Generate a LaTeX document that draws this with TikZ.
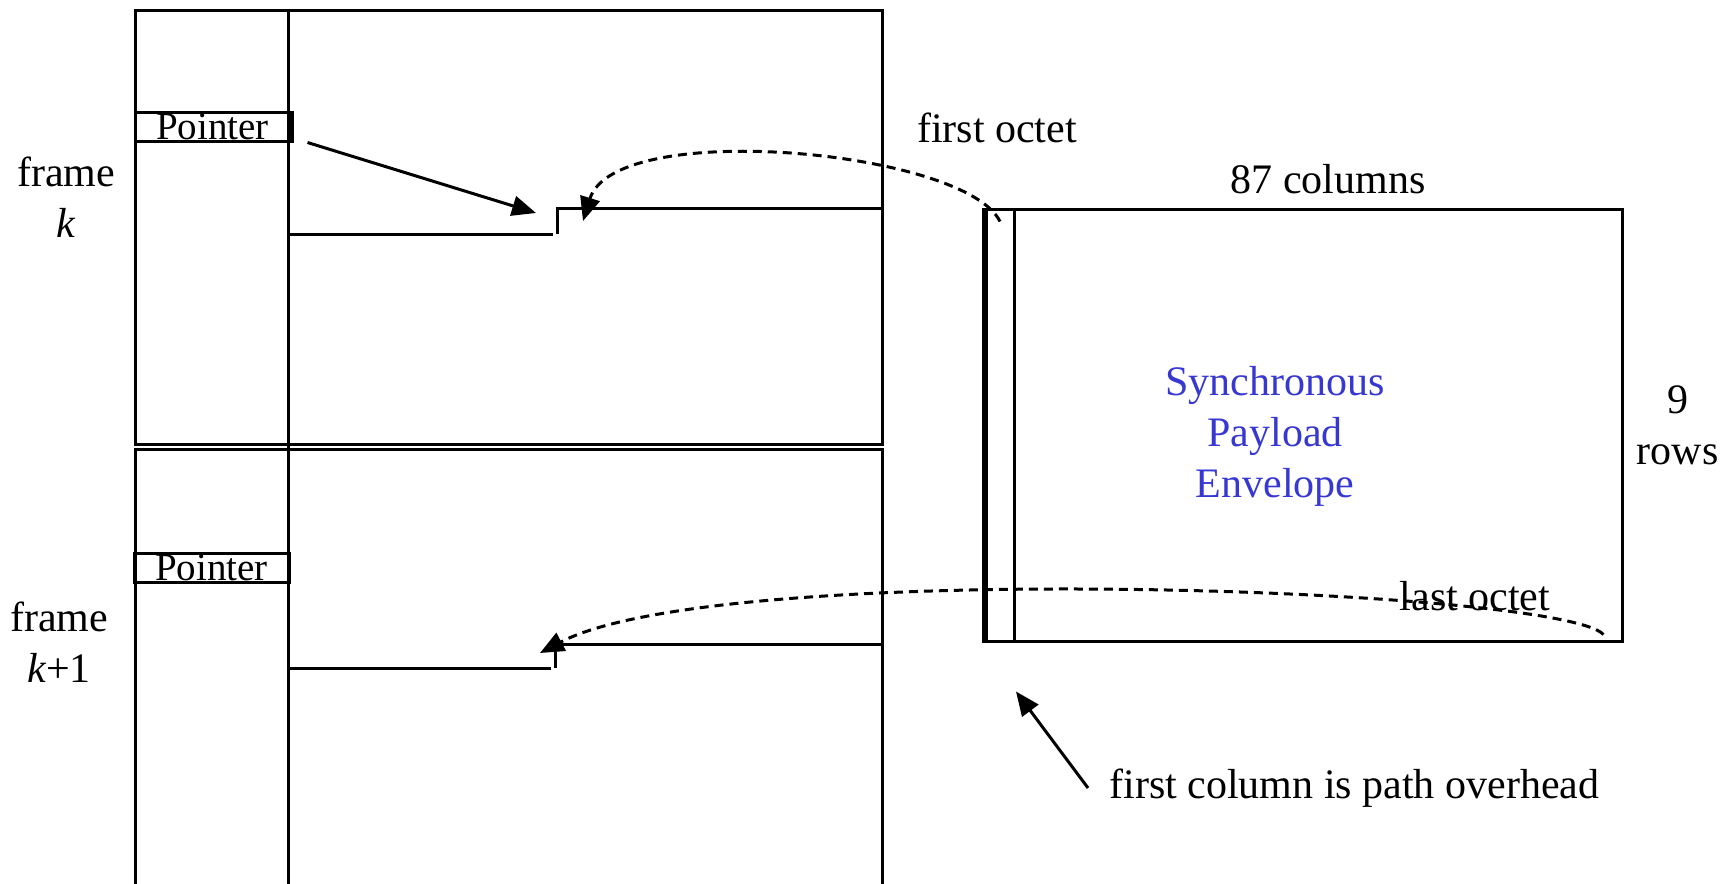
\documentclass[tikz,border=0pt]{standalone}
\usepackage{fontspec}
\setmainfont{Liberation Serif}
\usepackage{tikz}
\usetikzlibrary{arrows.meta,positioning}
\definecolor{speblue}{RGB}{55,55,210}
\tikzstyle{frameline} = [line width=1.5pt]
\tikzstyle{pointerbox} = [rectangle, draw, line width=1.5pt, inner sep=0pt,
    minimum width=77.5pt, minimum height=14.5pt, font=\fontsize{19.5}{20}\selectfont]
\tikzstyle{envbox} = [rectangle, draw, line width=1.5pt, inner sep=0pt]
\tikzstyle{label} = [inner sep=0pt, align=center]
\tikzstyle{ptr} = [-{Triangle[length=12pt,width=10pt]}, line width=1.5pt]
\tikzstyle{octet} = [ptr, dash pattern=on 4.5pt off 3pt]

\begin{document}
\begin{tikzpicture}[x=0.5pt, y=-0.5pt, font=\fontsize{21}{25.5}\selectfont]
  \useasboundingbox (0,0) rectangle (1736,884);
  % Frames
  \draw[frameline] (135,10) rectangle (882,444);
  \draw[frameline] (135,884) -- (135,449) -- (882,449) -- (882,884);
  \draw[frameline] (288,10) -- (288,884);
  \draw[frameline] (288,234) -- (553,234);
  \draw[frameline] (557,234) -- (557,208) -- (882,208);
  \draw[frameline] (288,668) -- (551,668);
  \draw[frameline] (555,668) -- (555,644) -- (882,644);
  % Place nodes
  \node [pointerbox] (pointerk) at (212.5,126.5) {Pointer};
  \draw[line width=2.8pt] (pointerk.north east) -- (pointerk.south east);
  \node [pointerbox] (pointerkk) at (211.5,567.5) {Pointer};
  \node [label] (framek) at (66,197) {frame\\\textit{k}};
  \node [label] (framekk) at (59,642) {frame\\\textit{k}+1};
  \node [envbox, minimum width=318pt, minimum height=216pt] (spe) at (1304,425) {};
  \node [envbox, minimum width=14pt, minimum height=216pt] (poh) at (1000,425) {};
  \draw[line width=2.8pt] (poh.north west) -- (poh.south west);
  \node [label, text=speblue] (spetext) at (1275,436) {Synchronous\\Payload\\Envelope};
  \node [label, right=6.5pt of spe] (rows) {9\\rows};
  \node [label] (columns) at (1328,179) {87 columns};
  \node [label] (firstoctet) at (997,128) {first octet};
  \node [label] (lastoctet) at (1475,596) {last octet};
  \node [label, anchor=west] (overhead) at (1109,788) {first column is path overhead};
  \coordinate (tipk) at (536,213);
  \coordinate (startk) at (583,221);
  \coordinate (startkk) at (540,653);
  % Draw edges
  \draw[ptr] ([xshift=8pt]pointerk.south east) -- (tipk);
  \draw[octet] ([yshift=-7pt]poh.north) .. controls (965,150) and (615,118) .. (startk);
  \draw[octet] ([shift={(-20,-8)}]spe.south east) .. controls (1560,588) and (720,558) .. (startkk);
  \draw[ptr] ([xshift=-10.5pt]overhead.west) -- ([shift={(16,49)}]poh.south);
\end{tikzpicture}
\end{document}
